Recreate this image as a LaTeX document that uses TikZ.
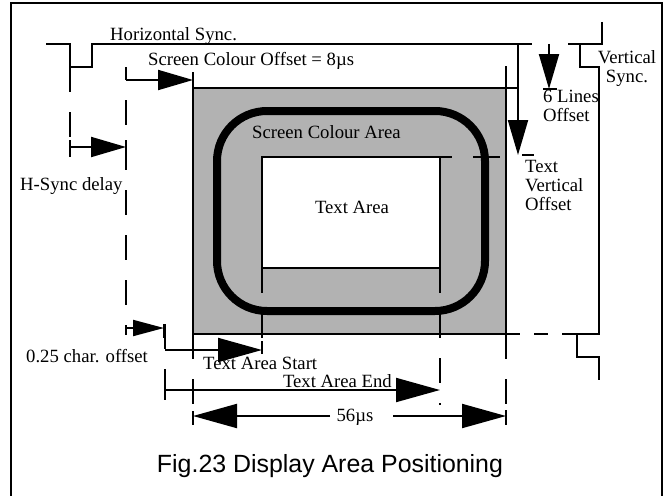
\documentclass[tikz,border=0pt]{standalone}
\usepackage{fontspec}
\setmainfont{Liberation Serif}
\newfontfamily\capfont{Liberation Sans}
\usetikzlibrary{arrows.meta}

\tikzset{
  lbl/.style={font=\fontsize{18.7}{19}\selectfont, inner sep=0pt},
  sig/.style={line width=2pt},
  dsh/.style={line width=2pt, dash pattern=on 25pt off 20pt},
  dshh/.style={line width=2pt, dash pattern=on 14pt off 14pt},
  tip/.style={-{Triangle[length=35pt,width=20pt]}},
  bigtip/.style={-{Triangle[length=44pt,width=24pt]}},
  smalltip/.style={-{Triangle[length=31pt,width=16pt]}},
}

\begin{document}
\begin{tikzpicture}[x=1pt, y=-1pt]
    \useasboundingbox (0,0) rectangle (668,495);

    % Frame
    \draw [sig] (11,3) rectangle (662,498);

    % Screen colour area
    \draw [sig, fill=black!30] (193,88) rectangle (506,334);
    \draw [line width=8pt, rounded corners=50pt] (217,111) rectangle (485,311);
    \draw [sig, fill=white] (262,157) rectangle (440,268);

    % Sync signals
    \draw [sig] (46,44) -- (70,44) -- (70,67) -- (92,67) -- (92,44) -- (532,44);
    \draw [sig] (568,44) -- (580,44);
    \draw [sig] (602,22) -- (602,44) -- (580,44) -- (580,67) -- (599,67) -- (599,334)
        -- (577,334) -- (577,357) -- (599,357) -- (599,380);

    % Extension lines
    \draw [sig] (193,72) -- (193,88);
    \draw [sig] (506,66) -- (506,88) -- (518,88);
    \draw [sig] (440,157) -- (452,157);
    \draw [sig] (473,157) -- (500,157);
    \draw [dsh] (70,67) -- (70,143);
    \draw [sig] (70,140) -- (70,157);
    \draw [sig] (126,67) -- (126,80);
    \draw [dsh] (126,100) -- (126,335);
    \draw [dsh] (165,324) -- (165,400);
    \draw [dsh] (193,334) -- (193,412);
    \draw [dsh] (506,334) -- (506,411);
    \draw [dshh] (506,334) -- (577,334);
    \draw [dsh] (262,268) -- (262,341);
    \draw [dsh] (440,268) -- (440,405);

    % Ticks
    \draw [sig] (164,324) -- (164,338);
    \draw [sig] (262,341) -- (262,354);
    \draw [sig] (165,386) -- (165,400);
    \draw [sig] (193,411) -- (193,425);
    \draw [sig] (506,410) -- (506,425);
    \draw [sig] (126,140) -- (126,157);
    \draw [sig] (522,155) -- (534,155);
    \draw [sig] (543,89) -- (557,89);

    % Arrows
    \draw [sig, tip] (126,80) -- (193,80);
    \draw [sig, tip] (70,147) -- (126,147);
    \draw [sig, smalltip] (126,328) -- (164,328);
    \draw [sig, bigtip] (165,350) -- (262,350);
    \draw [sig, bigtip] (165,390) -- (440,390);
    \draw [sig, bigtip] (330,416) -- (193,416);
    \draw [sig, bigtip] (393,416) -- (506,416);
    \draw [sig, tip] (518,44) -- (518,155);
    \draw [sig, tip] (549,44) -- (549,89);

    % Labels (multi-line nodes sit on the baseline of their last line)
    \node [lbl, anchor=base west] (hsync) at (110,41) {Horizontal Sync.};
    \node [lbl, anchor=base west] (scoffset) at (148,65) {Screen Colour Offset = 8µs};
    \node [lbl, anchor=base, align=center] (vsync) at (627,82) {Vertical\\Sync.};
    \node [lbl, anchor=base west, align=left] (sixlines) at (543,121) {6 Lines\\Offset};
    \node [lbl, anchor=base west, align=left] (tvoffset) at (525,210) {Text\\Vertical\\Offset};
    \node [lbl, anchor=base west] (scarea) at (252,138) {Screen Colour Area};
    \node [lbl, anchor=base] (tarea) at (352,213) {Text Area};
    \node [lbl, anchor=base west] (hdelay) at (20,190) {H-Sync delay};
    \node [lbl, anchor=base west] (charoff) at (26,362) {0.25 char. offset};
    \node [lbl, anchor=base west] (tastart) at (203,369) {Text Area Start};
    \node [lbl, anchor=base east] (taend) at (392,387) {Text Area End};
    \node [lbl, anchor=base] (width) at (355,421) {56µs};
    \node [font=\capfont\fontsize{24.9}{26}\selectfont, inner sep=0pt, anchor=base] (caption)
        at (330,472) {Fig.23 Display Area Positioning};

\end{tikzpicture}
\end{document}
